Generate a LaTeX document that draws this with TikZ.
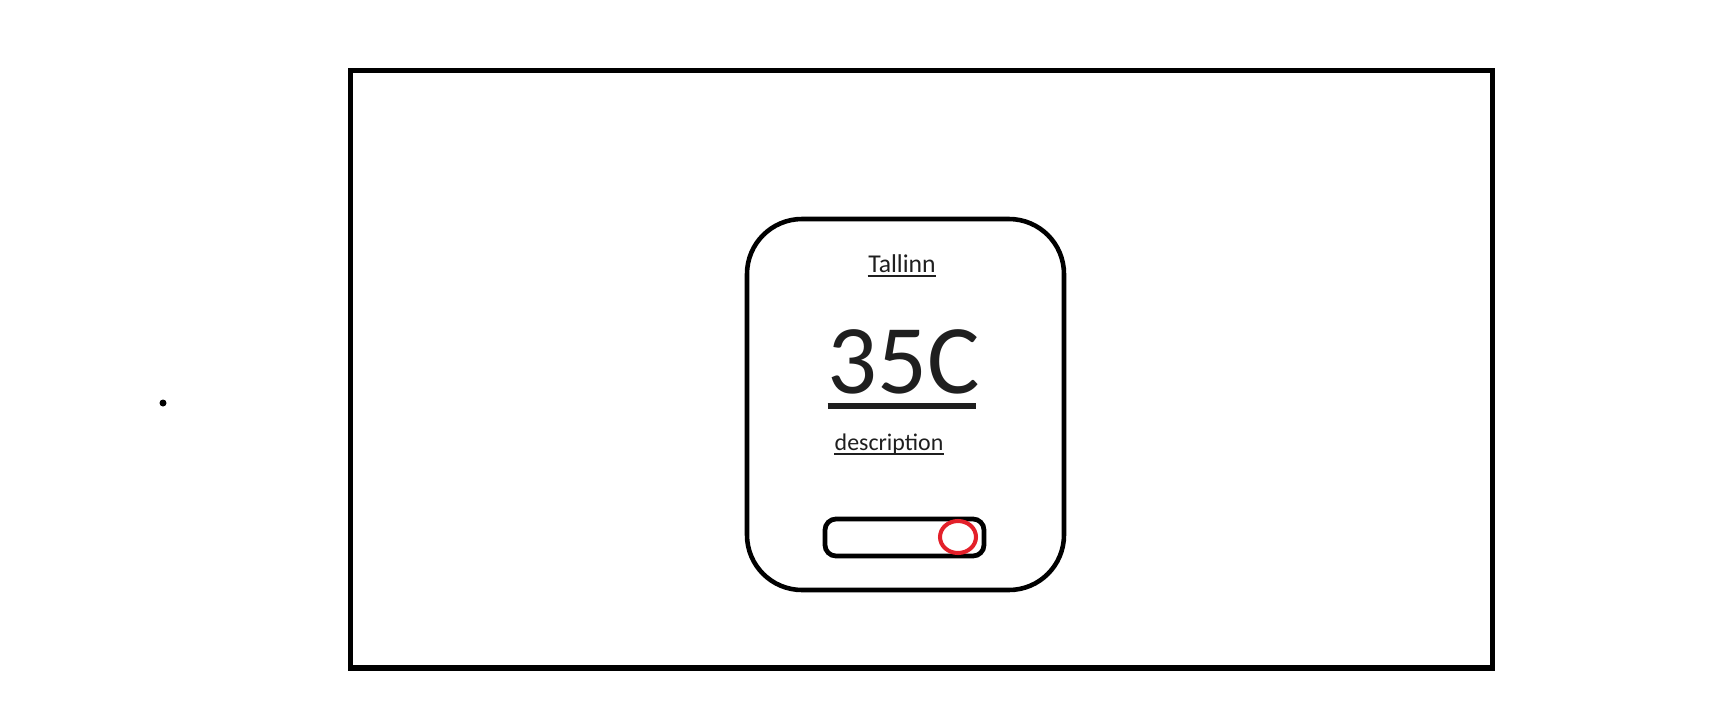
\documentclass[tikz,border=0pt]{standalone}
\usepackage{fontspec}
\setmainfont{Carlito}
\usetikzlibrary{positioning, calc}
\definecolor{txtcolor}{HTML}{1F1F1F}
\definecolor{knobcolor}{HTML}{E3202A}

\begin{document}
\begin{tikzpicture}[
    x=0.01cm, y=-0.01cm,
    frame/.style={draw=black, line width=1.45pt},
    card/.style={draw=black, line width=1.3pt, rounded corners=0.55cm},
    lbl/.style={inner sep=0pt, text=txtcolor},
    uline/.style={draw=txtcolor, line width=0.4pt},
    switchbox/.style={draw=black, line width=1.35pt, rounded corners=0.11cm},
    knob/.style={draw=knobcolor, line width=1.15pt},
  ]
    \useasboundingbox (0,0) rectangle (1711,724);

    \draw[frame] (350.5,70.5) rectangle (1492.5,668);
    \fill (163,403) circle[radius=3.5];

    \draw[card] (747,219) rectangle (1064,590);

    \node[lbl, anchor=base, font=\fontsize{7.3pt}{9pt}\selectfont] (city) at (902,272) {Tallinn};
    \node[lbl, anchor=base, font=\fontsize{28pt}{32pt}\selectfont] (temp) at (903.5,393) {35C};
    \node[lbl, anchor=base west, font=\fontsize{6.8pt}{8pt}\selectfont] (desc) at (834,450) {description};

    \draw[uline] ([yshift=-1.1pt]city.base west) -- ([yshift=-1.1pt]city.base east);
    \draw[txtcolor, line width=1.7pt] ($(temp.base west)+(1,13)$) -- ($(temp.base east)+(-4,13)$);
    \draw[uline] ([yshift=-1.1pt]desc.base west) -- ([yshift=-1.1pt]desc.base east);

    \draw[switchbox] (825,519) rectangle (984,556);
    \draw[knob] (958,537) ellipse[x radius=18, y radius=16];
  \end{tikzpicture}
\end{document}
